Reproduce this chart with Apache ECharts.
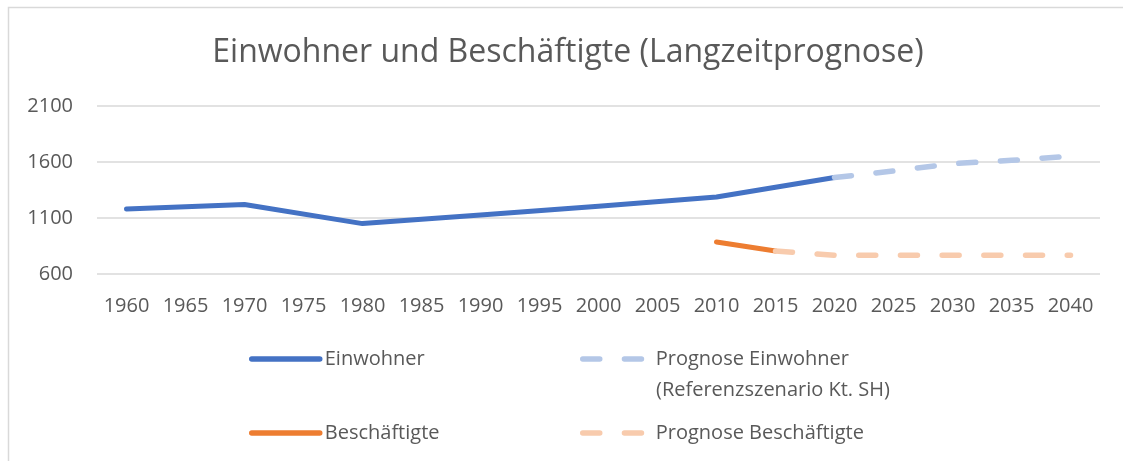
<!DOCTYPE html>
<html>
<head>
<meta charset="utf-8">
<script src="https://cdn.jsdelivr.net/npm/echarts@6/dist/echarts.min.js"></script>
<style>
  html, body { margin: 0; padding: 0; background: #ffffff; }
  #chart { width: 1123px; height: 461px; }
</style>
</head>
<body>
<div id="chart"></div>
<script>
const years = ['1960','1965','1970','1975','1980','1985','1990','1995','2000','2005','2010','2015','2020','2025','2030','2035','2040'];
const einwohner = [1180, null, 1220, null, 1050, null, 1127, null, 1205, null, 1287, null, 1461, null, null, null, null];
const prognoseEinwohner = [null, null, null, null, null, null, null, null, null, null, null, null, 1461, 1520, 1585, 1615, 1652];
const beschaeftigte = [null, null, null, null, null, null, null, null, null, null, 886, 805, null, null, null, null, null];
const prognoseBeschaeftigte = [null, null, null, null, null, null, null, null, null, null, null, 805, 767, 767, 767, 767, 767];
const yTicks = [600, 1100, 1600, 2100];

const seriesNames = ['Einwohner', 'Prognose Einwohner', 'Beschäftigte', 'Prognose Beschäftigte'];
const prognoseSubline = '(Referenzszenario Kt. SH)';
const titleText = 'Einwohner und Beschäftigte (Langzeitprognose)';

const FONT = '"Open Sans", "Noto Sans", sans-serif';
const TXT = '#595959';
const C_EW = '#4472C4', C_PEW = '#B4C7E7', C_BS = '#ED7D31', C_PBS = '#F8CBAD';
const DASH = [17, 24.7];

const chart = echarts.init(document.getElementById('chart'), null, { renderer: 'canvas' });

function legendFor(name, left, top, color, dashed) {
  return {
    data: [name],
    left: left, top: top, padding: 0,
    itemWidth: 68, itemHeight: 20,
    selectedMode: false,
    textStyle: { fontFamily: FONT, fontSize: 20, color: TXT, lineHeight: 20 },
    itemStyle: { opacity: 0, borderWidth: 0 },
    lineStyle: { width: 5.5, color: color, type: dashed ? DASH : 'solid', cap: 'round', opacity: 1 }
  };
}

function lineSeries(name, data, color, dashed, z) {
  return {
    name: name, type: 'line', data: data,
    connectNulls: true, symbol: 'none', showSymbol: false,
    z: z,
    lineStyle: { width: dashed ? 5.5 : 5, color: color, type: dashed ? DASH : 'solid', cap: 'round', join: 'round' },
    itemStyle: { color: color },
    emphasis: { disabled: true }
  };
}

chart.setOption({
  animation: false,
  backgroundColor: '#ffffff',
  title: {
    text: titleText, left: 568, top: 37, textAlign: 'center', padding: 0,
    textStyle: { fontFamily: FONT, fontSize: 32, fontWeight: 'normal', color: TXT }
  },
  grid: { left: 97, right: 23, top: 106, bottom: 187, containLabel: false },
  xAxis: {
    type: 'category', data: years, boundaryGap: true,
    axisLine: { show: false }, axisTick: { show: false },
    axisLabel: { interval: 0, margin: 22, fontFamily: FONT, fontSize: 20, color: TXT },
    splitLine: { show: false }
  },
  yAxis: {
    type: 'value', min: yTicks[0], max: yTicks[yTicks.length - 1], interval: yTicks[1] - yTicks[0],
    axisLine: { show: false }, axisTick: { show: false },
    axisLabel: { margin: 24, fontFamily: FONT, fontSize: 20, color: TXT, formatter: function (v) { return String(v); } },
    splitLine: { show: true, lineStyle: { color: '#D9D9D9', width: 1.5 } }
  },
  legend: [
    legendFor(seriesNames[0], 249, 349, C_EW, false),
    legendFor(seriesNames[1], 580, 349, C_PEW, true),
    legendFor(seriesNames[2], 249, 423, C_BS, false),
    legendFor(seriesNames[3], 580, 423, C_PBS, true)
  ],
  graphic: [
    { type: 'rect', silent: true, z: -10,
      shape: { x: 8.5, y: 7.5, width: 1200, height: 600 },
      style: { fill: 'none', stroke: '#D9D9D9', lineWidth: 1.5 } },
    { type: 'text', silent: true, x: 656, y: 390.5,
      style: { text: prognoseSubline, font: '20px ' + FONT, fill: TXT, textAlign: 'left', textVerticalAlign: 'middle' } }
  ],
  series: [
    lineSeries(seriesNames[0], einwohner, C_EW, false, 2),
    lineSeries(seriesNames[1], prognoseEinwohner, C_PEW, true, 3),
    lineSeries(seriesNames[2], beschaeftigte, C_BS, false, 2),
    lineSeries(seriesNames[3], prognoseBeschaeftigte, C_PBS, true, 3)
  ]
});
</script>
</body>
</html>
